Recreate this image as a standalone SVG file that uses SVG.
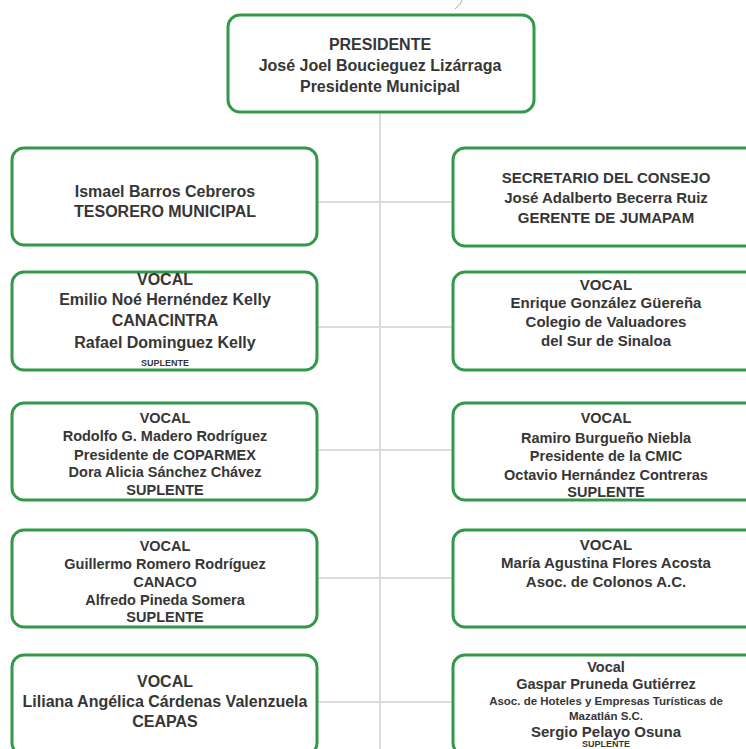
<svg xmlns="http://www.w3.org/2000/svg" width="746" height="749" viewBox="0 0 746 749">
<style>
.box{fill:#fff;stroke:#33994a;stroke-width:3}
.conn{stroke:#dcdcdc;stroke-width:2;fill:none}
text{font-family:"Liberation Sans",Arial,sans-serif;font-weight:bold;fill:#363636;text-anchor:middle}
.l{font-size:16px}
.m{font-size:15px}
.s{font-size:14.5px}
.xs{font-size:11.5px}
.tiny{font-size:9px}
</style>
<rect width="746" height="749" fill="#fff"/>
<path d="M462 0 Q461 5 455 9" stroke="#aaa" stroke-width="1" fill="none"/>
<g id="connectors">
<line class="conn" x1="380" y1="112" x2="380" y2="749"/>
<line class="conn" x1="318" y1="202" x2="453" y2="202"/>
<line class="conn" x1="318" y1="327" x2="453" y2="327"/>
<line class="conn" x1="318" y1="450" x2="453" y2="450"/>
<line class="conn" x1="318" y1="578" x2="453" y2="578"/>
<line class="conn" x1="318" y1="702" x2="453" y2="702"/>
</g>
<g id="presidente">
<rect class="box" x="228" y="15" width="306" height="97" rx="12"/>
<text class="l" x="380" y="50">PRESIDENTE</text>
<text class="l" x="380" y="71">José Joel Boucieguez Lizárraga</text>
<text class="l" x="380" y="92">Presidente Municipal</text>
</g>
<g id="tesorero">
<rect class="box" x="12" y="148" width="305" height="97" rx="12"/>
<text class="l" x="165" y="197">Ismael Barros Cebreros</text>
<text class="l" x="165" y="217">TESORERO MUNICIPAL</text>
</g>
<g id="secretario">
<rect class="box" x="453" y="148" width="306" height="98" rx="12"/>
<text class="m" x="606" y="183">SECRETARIO DEL CONSEJO</text>
<text class="m" x="606" y="203">José Adalberto Becerra Ruiz</text>
<text class="m" x="606" y="223">GERENTE DE JUMAPAM</text>
</g>
<g id="vocal-canacintra">
<rect class="box" x="12" y="272" width="305" height="98" rx="12"/>
<text class="l" x="165" y="285">VOCAL</text>
<text class="l" x="165" y="305">Emilio Noé Hernéndez Kelly</text>
<text class="l" x="165" y="326">CANACINTRA</text>
<text class="l" x="165" y="348">Rafael Dominguez Kelly</text>
<text class="tiny" x="165" y="366">SUPLENTE</text>
</g>
<g id="vocal-valuadores">
<rect class="box" x="453" y="272" width="306" height="98" rx="12"/>
<text class="m" x="606" y="290">VOCAL</text>
<text class="m" x="606" y="308">Enrique González Güereña</text>
<text class="m" x="606" y="327">Colegio de Valuadores</text>
<text class="m" x="606" y="346">del Sur de Sinaloa</text>
</g>
<g id="vocal-coparmex">
<rect class="box" x="12" y="403" width="305" height="97" rx="12"/>
<text class="s" x="165" y="423">VOCAL</text>
<text class="s" x="165" y="441">Rodolfo G. Madero Rodríguez</text>
<text class="s" x="165" y="460">Presidente de COPARMEX</text>
<text class="s" x="165" y="477">Dora Alicia Sánchez Chávez</text>
<text class="s" x="165" y="495">SUPLENTE</text>
</g>
<g id="vocal-cmic">
<rect class="box" x="453" y="403" width="306" height="97" rx="12"/>
<text class="s" x="606" y="423">VOCAL</text>
<text class="s" x="606" y="443">Ramiro Burgueño Niebla</text>
<text class="s" x="606" y="461">Presidente de la CMIC</text>
<text class="s" x="606" y="480">Octavio Hernández Contreras</text>
<text class="s" x="606" y="497">SUPLENTE</text>
</g>
<g id="vocal-canaco">
<rect class="box" x="12" y="530" width="305" height="97" rx="12"/>
<text class="s" x="165" y="551">VOCAL</text>
<text class="s" x="165" y="569">Guillermo Romero Rodríguez</text>
<text class="s" x="165" y="587">CANACO</text>
<text class="s" x="165" y="605">Alfredo Pineda Somera</text>
<text class="s" x="165" y="622">SUPLENTE</text>
</g>
<g id="vocal-colonos">
<rect class="box" x="453" y="530" width="306" height="97" rx="12"/>
<text class="m" x="606" y="550">VOCAL</text>
<text class="m" x="606" y="568">María Agustina Flores Acosta</text>
<text class="m" x="606" y="587">Asoc. de Colonos A.C.</text>
</g>
<g id="vocal-ceapas">
<rect class="box" x="12" y="655" width="305" height="100" rx="12"/>
<text class="l" x="165" y="687">VOCAL</text>
<text class="l" x="165" y="707">Liliana Angélica Cárdenas Valenzuela</text>
<text class="l" x="165" y="727">CEAPAS</text>
</g>
<g id="vocal-hoteles">
<rect class="box" x="453" y="655" width="306" height="100" rx="12"/>
<text class="s" x="606" y="672">Vocal</text>
<text class="s" x="606" y="689">Gaspar Pruneda Gutiérrez</text>
<text class="xs" x="606" y="705">Asoc. de Hoteles y Empresas Turísticas de</text>
<text class="xs" x="606" y="720">Mazatlán S.C.</text>
<text class="m" x="606" y="737">Sergio Pelayo Osuna</text>
<text class="tiny" x="606" y="747">SUPLENTE</text>
</g>
</svg>
